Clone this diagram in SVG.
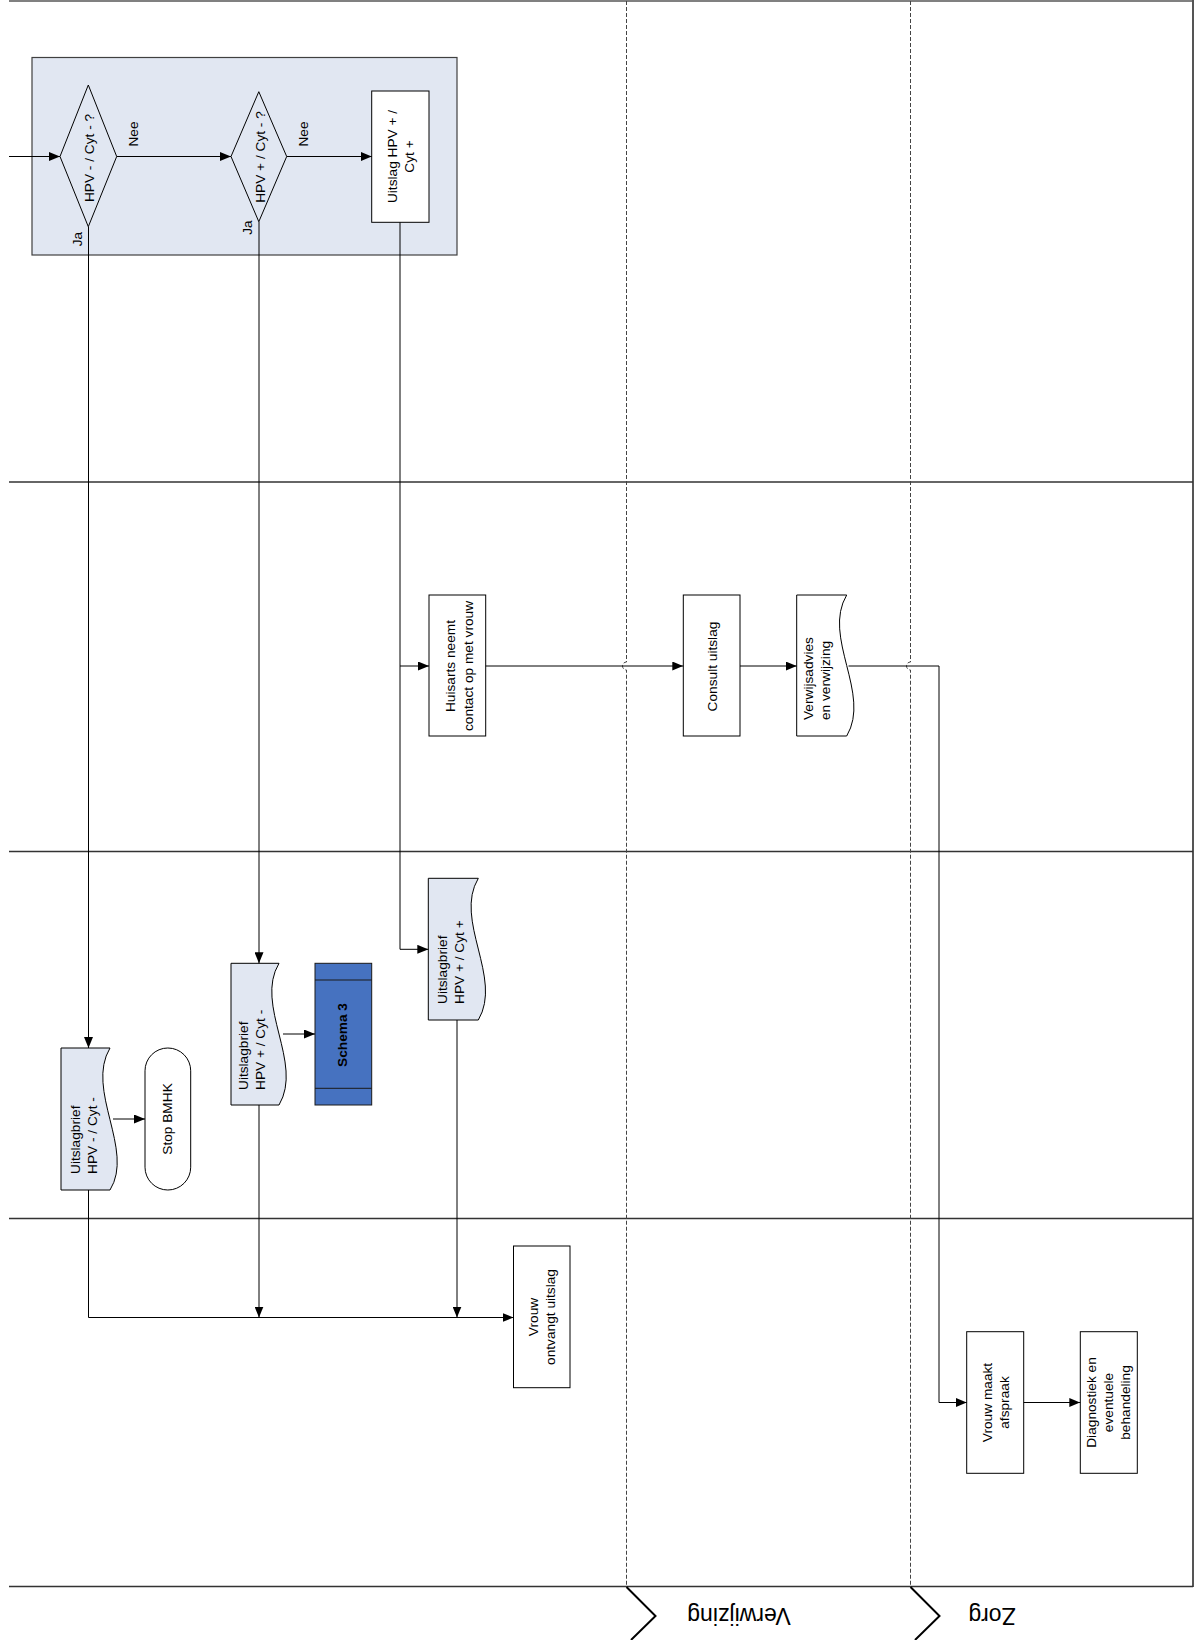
<svg xmlns="http://www.w3.org/2000/svg" width="1200" height="1640" viewBox="0 0 1200 1640">
<defs>
<marker id="arr" markerWidth="11" markerHeight="9" refX="11" refY="4.5" orient="auto" markerUnits="userSpaceOnUse"><path d="M0,0 L11,4.5 L0,9 z" fill="#000"/></marker>
<style>
.t{font-family:"Liberation Sans",Arial,sans-serif;font-size:13.7px;fill:#000;text-anchor:middle}
.s{text-anchor:start}
.b{font-weight:bold}
.lane{font-family:"Liberation Sans",Arial,sans-serif;font-size:23px;fill:#000;text-anchor:middle}
.box{fill:#fff;stroke:#000;stroke-width:1}
.doc{fill:#E1E7F2;stroke:#000;stroke-width:1}
.c{fill:none;stroke:#000;stroke-width:1;marker-end:url(#arr)}
.l{fill:none;stroke:#000;stroke-width:1}
.sep{fill:none;stroke:#333;stroke-width:1.5}
.dash{fill:none;stroke:#444;stroke-width:1;stroke-dasharray:4,2}
</style>
</defs>
<g id="frame">
<line x1="9" y1="1" x2="1193" y2="1" stroke="#808080" stroke-width="2"/>
<line x1="1193" y1="0" x2="1193" y2="1587" stroke="#555" stroke-width="2"/>
<line class="sep" x1="9" y1="482" x2="1193" y2="482"/>
<line class="sep" x1="9" y1="851.5" x2="1193" y2="851.5"/>
<line class="sep" x1="9" y1="1218.5" x2="1193" y2="1218.5"/>
<line class="sep" x1="9" y1="1586.5" x2="1193" y2="1586.5"/>
<path class="dash" d="M626.5,1 V662 A4,4 0 0,0 626.5,670 V1587"/>
<path class="dash" d="M910.5,1 V662 A4,4 0 0,0 910.5,670 V1587"/>
<path d="M626.5,1587 L655.5,1616 L631,1640" fill="none" stroke="#000" stroke-width="2"/>
<path d="M910.5,1587 L939.5,1616 L915,1640" fill="none" stroke="#000" stroke-width="2"/>
<text class="lane" transform="translate(739,1616) rotate(180)" y="8">Verwijzing</text>
<text class="lane" transform="translate(992,1616) rotate(180)" y="8">Zorg</text>
</g>
<g id="group-box">
<rect x="32" y="57.5" width="425" height="197.5" fill="#E1E7F2" stroke="#404040" stroke-width="1.2"/>
</g>
<g id="d1">
<path class="box" d="M88.3,85 L116.7,156.5 L88.3,226.7 L60,156.5 Z" fill="#E1E7F2" style="fill:#E1E7F2"/>
<text class="t" transform="translate(89.5,158) rotate(-90)" y="4.8">HPV - / Cyt - ?</text>
</g>
<g id="d2">
<path class="box" d="M258.8,91.7 L286.7,156.5 L258.8,221.7 L231,156.5 Z" style="fill:#E1E7F2"/>
<text class="t" transform="translate(260.5,157) rotate(-90)" y="4.8">HPV + / Cyt - ?</text>
</g>
<g id="r1">
<rect class="box" x="371.7" y="91" width="57.3" height="131.3"/>
<text class="t" transform="translate(400.5,156.5) rotate(-90)"><tspan x="0" y="-3.7">Uitslag HPV + /</tspan><tspan x="0" y="13.3">Cyt +</tspan></text>
</g>
<g id="labels">
<text class="t" transform="translate(133,134) rotate(-90)" y="4.8">Nee</text>
<text class="t" transform="translate(303,134) rotate(-90)" y="4.8">Nee</text>
<text class="t" transform="translate(77,239) rotate(-90)" y="4.8">Ja</text>
<text class="t" transform="translate(247,227.5) rotate(-90)" y="4.8">Ja</text>
</g>
<g id="doc1">
<path class="doc" d="M61,1048 H110 C85,1090 135,1150 110,1190 H61 Z"/>
<text class="t s" transform="translate(84,1174) rotate(-90)"><tspan x="0" y="-3.7">Uitslagbrief</tspan><tspan x="0" y="13.3">HPV - / Cyt -</tspan></text>
</g>
<g id="stop">
<rect class="box" x="145" y="1048" width="45.7" height="142" rx="22.8" ry="22.8"/>
<text class="t" transform="translate(167.5,1119) rotate(-90)" y="4.8">Stop BMHK</text>
</g>
<g id="doc2">
<path class="doc" d="M231,963.3 H279 C254,1005 304,1063 279,1105 H231 Z"/>
<text class="t s" transform="translate(252,1090) rotate(-90)"><tspan x="0" y="-3.7">Uitslagbrief</tspan><tspan x="0" y="13.3">HPV + / Cyt -</tspan></text>
</g>
<g id="schema3">
<rect x="315" y="963.3" width="56.7" height="141.7" fill="#4672C0" stroke="#1a1a1a" stroke-width="1"/>
<line x1="315" y1="980" x2="371.7" y2="980" stroke="#1a1a1a" stroke-width="1"/>
<line x1="315" y1="1088.3" x2="371.7" y2="1088.3" stroke="#1a1a1a" stroke-width="1"/>
<text class="t b" transform="translate(342.5,1035) rotate(-90)" y="4.8">Schema 3</text>
</g>
<g id="doc3">
<path class="doc" d="M428.3,878.3 H478.3 C453.3,920 503.3,978 478.3,1020 H428.3 Z"/>
<text class="t s" transform="translate(451,1004) rotate(-90)"><tspan x="0" y="-3.7">Uitslagbrief</tspan><tspan x="0" y="13.3">HPV + / Cyt +</tspan></text>
</g>
<g id="vrouw1">
<rect class="box" x="513.5" y="1246" width="56.5" height="141.7"/>
<text class="t" transform="translate(541.5,1317) rotate(-90)"><tspan x="0" y="-3.7">Vrouw</tspan><tspan x="0" y="13.3">ontvangt uitslag</tspan></text>
</g>
<g id="huisarts">
<rect class="box" x="429" y="595" width="56.7" height="141"/>
<text class="t" transform="translate(459,666) rotate(-90)"><tspan x="0" y="-4.2">Huisarts neemt</tspan><tspan x="0" y="13.8">contact op met vrouw</tspan></text>
</g>
<g id="consult">
<rect class="box" x="683.3" y="595" width="56.7" height="141"/>
<text class="t" transform="translate(712.5,666.5) rotate(-90)" y="4.8">Consult uitslag</text>
</g>
<g id="verwijs">
<path d="M796.7,595 H846.7 C821.7,637 871.7,694 846.7,736 H796.7 Z" fill="#fff" stroke="#000" stroke-width="1"/>
<text class="t s" transform="translate(817,720) rotate(-90)"><tspan x="0" y="-3.7">Verwijsadvies</tspan><tspan x="0" y="13.3">en verwijzing</tspan></text>
</g>
<g id="afspraak">
<rect class="box" x="966.7" y="1331.7" width="57" height="141.6"/>
<text class="t" transform="translate(996,1402.5) rotate(-90)"><tspan x="0" y="-3.7">Vrouw maakt</tspan><tspan x="0" y="13.3">afspraak</tspan></text>
</g>
<g id="diagnostiek">
<rect class="box" x="1080.3" y="1331.7" width="57" height="141.6"/>
<text class="t" transform="translate(1108,1402.5) rotate(-90)"><tspan x="0" y="-12">Diagnostiek en</tspan><tspan x="0" y="4.8">eventuele</tspan><tspan x="0" y="21.6">behandeling</tspan></text>
</g>
<g id="connectors">
<path class="c" d="M9,156.5 H60"/>
<path class="c" d="M116.7,156.5 H231"/>
<path class="c" d="M286.7,156.5 H371.7"/>
<path class="c" d="M88.5,226.7 V1048"/>
<path class="c" d="M259,221.7 V963.3"/>
<path class="c" d="M400,222.3 V949.3 H428.3"/>
<path class="c" d="M400,666 H429"/>
<path class="c" d="M113,1119 H145"/>
<path class="c" d="M283,1034 H315"/>
<path class="c" d="M88.5,1190 V1317.5 H513.5"/>
<path class="c" d="M259,1105 V1317.5"/>
<path class="c" d="M457,1020 V1317.5"/>
<path class="c" d="M485.7,666 H683.3"/>
<path class="c" d="M740,666 H796.7"/>
<path class="c" d="M848.5,666 H939 V1402.5 H966.7"/>
<path class="c" d="M1023.7,1402.5 H1080.3"/>
</g>
</svg>
